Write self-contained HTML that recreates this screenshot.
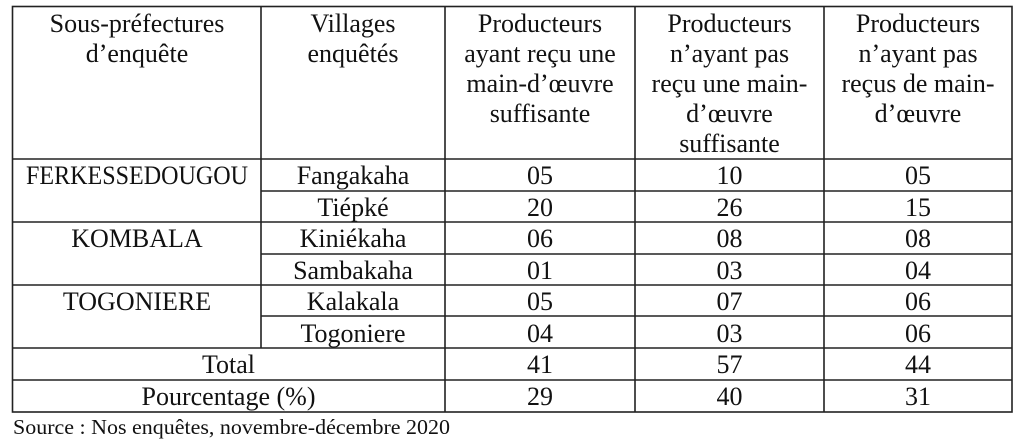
<!DOCTYPE html>
<html><head><meta charset="utf-8"><style>
html,body{margin:0;padding:0;background:#fff;}
svg{display:block;}
text{font-family:"Liberation Serif","Times New Roman",serif;font-size:26px;fill:#111;}
</style></head><body>
<svg width="1024" height="441" viewBox="0 0 1024 441" xmlns="http://www.w3.org/2000/svg">
<g stroke="#222" stroke-width="1.6" fill="none">
<rect x="12.5" y="6.5" width="999.5" height="405.5"/>
<line x1="261" y1="6" x2="261" y2="348"/>
<line x1="445" y1="6" x2="445" y2="412"/>
<line x1="635" y1="6" x2="635" y2="412"/>
<line x1="824" y1="6" x2="824" y2="412"/>
<line x1="12" y1="159" x2="1012" y2="159"/>
<line x1="261" y1="191" x2="1012" y2="191"/>
<line x1="12" y1="222" x2="1012" y2="222"/>
<line x1="261" y1="254" x2="1012" y2="254"/>
<line x1="12" y1="285" x2="1012" y2="285"/>
<line x1="261" y1="316" x2="1012" y2="316"/>
<line x1="12" y1="348" x2="1012" y2="348"/>
<line x1="12" y1="380" x2="1012" y2="380"/>
</g>
<g text-anchor="middle">
<text x="137" y="32">Sous-préfectures</text>
<text x="137" y="62">d’enquête</text>
<text x="353" y="32">Villages</text>
<text x="353" y="62">enquêtés</text>
<text x="540" y="32">Producteurs</text>
<text x="540" y="62">ayant reçu une</text>
<text x="540" y="92">main-d’œuvre</text>
<text x="540" y="122">suffisante</text>
<text x="729.5" y="32">Producteurs</text>
<text x="729.5" y="62">n’ayant pas</text>
<text x="729.5" y="92">reçu une main-</text>
<text x="729.5" y="122">d’œuvre</text>
<text x="729.5" y="152">suffisante</text>
<text x="918" y="32">Producteurs</text>
<text x="918" y="62">n’ayant pas</text>
<text x="918" y="92">reçus de main-</text>
<text x="918" y="122">d’œuvre</text>

<text x="137" y="184" textLength="222" lengthAdjust="spacingAndGlyphs">FERKESSEDOUGOU</text>
<text x="137" y="247">KOMBALA</text>
<text x="137" y="310">TOGONIERE</text>

<text x="353" y="184">Fangakaha</text>
<text x="353" y="216">Tiépké</text>
<text x="353" y="247">Kiniékaha</text>
<text x="353" y="279">Sambakaha</text>
<text x="353" y="310">Kalakala</text>
<text x="353" y="342">Togoniere</text>
<text x="228.5" y="373">Total</text>
<text x="228.5" y="405">Pourcentage (%)</text>

<text x="540" y="184">05</text><text x="729.5" y="184">10</text><text x="918" y="184">05</text>
<text x="540" y="216">20</text><text x="729.5" y="216">26</text><text x="918" y="216">15</text>
<text x="540" y="247">06</text><text x="729.5" y="247">08</text><text x="918" y="247">08</text>
<text x="540" y="279">01</text><text x="729.5" y="279">03</text><text x="918" y="279">04</text>
<text x="540" y="310">05</text><text x="729.5" y="310">07</text><text x="918" y="310">06</text>
<text x="540" y="342">04</text><text x="729.5" y="342">03</text><text x="918" y="342">06</text>
<text x="540" y="373">41</text><text x="729.5" y="373">57</text><text x="918" y="373">44</text>
<text x="540" y="405">29</text><text x="729.5" y="405">40</text><text x="918" y="405">31</text>
</g>
<text x="13" y="434" style="font-size:21px" textLength="437" lengthAdjust="spacingAndGlyphs">Source : Nos enquêtes, novembre-décembre 2020</text>
</svg>
</body></html>
